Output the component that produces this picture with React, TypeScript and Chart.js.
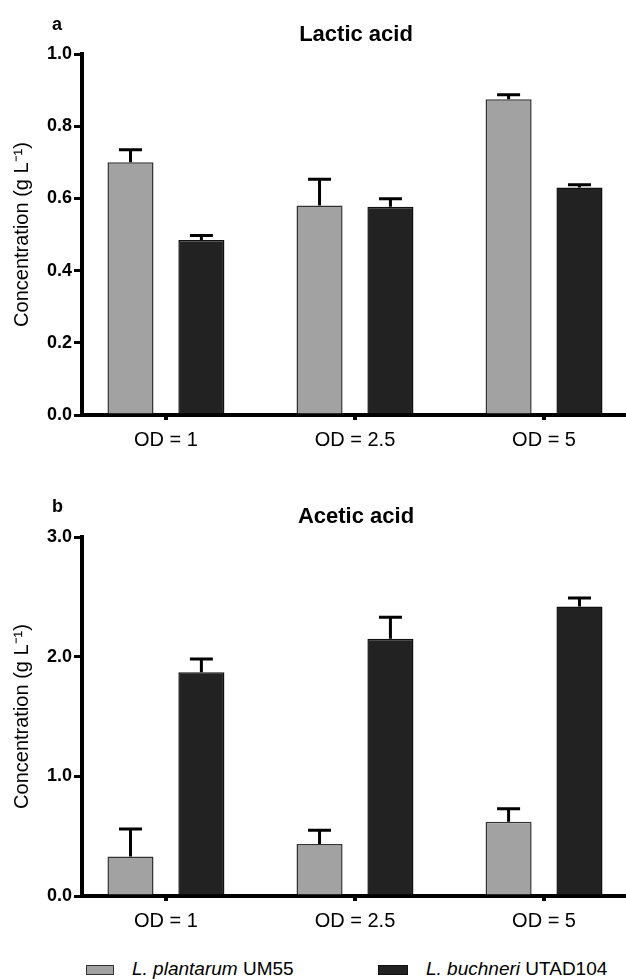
import React, { useEffect, useRef } from "react";
import { Chart, registerables } from "chart.js";

Chart.register(...registerables);

// ---- Data ----
const categories = ["OD = 1", "OD = 2.5", "OD = 5"];
const seriesNames = ["L. plantarum", "L. buchneri"];
const seriesStrains = ["UM55", "UTAD104"];

const lacticPlantarum = [0.70, 0.58, 0.875];
const lacticPlantarumErr = [0.035, 0.073, 0.012];
const lacticBuchneri = [0.485, 0.577, 0.63];
const lacticBuchneriErr = [0.012, 0.022, 0.008];

const aceticPlantarum = [0.33, 0.435, 0.62];
const aceticPlantarumErr = [0.23, 0.115, 0.11];
const aceticBuchneri = [1.87, 2.15, 2.42];
const aceticBuchneriErr = [0.11, 0.18, 0.07];

const lacticTicks = [0, 0.2, 0.4, 0.6, 0.8, 1.0];
const aceticTicks = [0, 1, 2, 3];

const GRAY = "#a2a2a2";
const DARK = "#222222";
const FONT = "'Liberation Sans', Arial, sans-serif";

const errorBarPlugin = {
  id: "errorBars",
  afterDatasetsDraw(chart: any) {
    const ctx = chart.ctx;
    const yScale = chart.scales.y;
    chart.data.datasets.forEach((ds: any, i: number) => {
      const meta = chart.getDatasetMeta(i);
      const errs: number[] = ds.errors || [];
      meta.data.forEach((el: any, j: number) => {
        const v = ds.data[j].y;
        const e = errs[j] || 0;
        const yTop = el.y;
        const yErr = yScale.getPixelForValue(v + e);
        ctx.save();
        ctx.strokeStyle = "#000";
        ctx.lineWidth = 3;
        ctx.beginPath();
        ctx.moveTo(el.x, yTop);
        ctx.lineTo(el.x, yErr);
        ctx.moveTo(el.x - 11.5, yErr);
        ctx.lineTo(el.x + 11.5, yErr);
        ctx.stroke();
        ctx.restore();
      });
    });
  },
};

type PanelProps = {
  top: number;
  height: number;
  plotTop: number;
  plotBottom: number;
  yMax: number;
  yTicks: number[];
  a: number[];
  aErr: number[];
  b: number[];
  bErr: number[];
};

function Panel(p: PanelProps) {
  const ref = useRef<HTMLCanvasElement | null>(null);
  useEffect(() => {
    if (!ref.current) return;
    const chart = new Chart(ref.current, {
      type: "bar",
      data: {
        datasets: [
          {
            label: seriesNames[0],
            data: p.a.map((v, i) => ({ x: i, y: v })),
            errors: p.aErr,
            backgroundColor: GRAY,
            borderColor: "#333",
            borderWidth: 1.5,
          } as any,
          {
            label: seriesNames[1],
            data: p.b.map((v, i) => ({ x: i, y: v })),
            errors: p.bErr,
            backgroundColor: DARK,
            borderColor: "#111",
            borderWidth: 1.5,
          } as any,
        ],
      },
      options: {
        responsive: false,
        animation: false,
        devicePixelRatio: 1,
        layout: { padding: { top: p.plotTop, right: 2, left: 0, bottom: 0 } },
        datasets: { bar: { categoryPercentage: 0.75, barPercentage: 0.65 } } as any,
        plugins: {
          legend: { display: false },
          tooltip: { enabled: false },
          title: { display: false },
        },
        scales: {
          x: {
            type: "linear",
            offset: false,
            min: -0.444,
            max: 2.423,
            afterBuildTicks: (s: any) => {
              s.ticks = categories.map((_, i) => ({ value: i }));
            },
            afterFit: (s: any) => {
              s.height = p.height - p.plotBottom;
            },
            ticks: {
              callback: (v: any) => categories[v] ?? "",
              font: { family: FONT, size: 20 },
              color: "#000",
              padding: 8,
              autoSkip: false,
              maxRotation: 0,
            },
            grid: {
              offset: false,
              drawOnChartArea: false,
              drawTicks: true,
              tickLength: 5,
              lineWidth: 4,
              color: "#000",
            },
            border: { display: true, width: 4, color: "#000" },
          } as any,
          y: {
            min: 0,
            max: p.yMax,
            afterBuildTicks: (s: any) => {
              s.ticks = p.yTicks.map((v) => ({ value: v }));
            },
            afterFit: (s: any) => {
              s.width = 82;
            },
            ticks: {
              callback: (v: any) => Number(v).toFixed(1),
              font: { family: FONT, size: 18, weight: "bold" },
              color: "#000",
              padding: 2,
            },
            grid: {
              drawOnChartArea: false,
              drawTicks: true,
              tickLength: 8,
              lineWidth: 3,
              color: "#000",
            },
            border: { display: true, width: 4, color: "#000" },
            title: {
              display: true,
              text: "Concentration (g L\u207B\u00B9)",
              font: { family: FONT, size: 20 },
              color: "#000",
              padding: { top: 10, bottom: 0 },
            },
          } as any,
        },
      },
      plugins: [errorBarPlugin],
    });
    return () => chart.destroy();
  }, []);
  return (
    <canvas
      ref={ref}
      width={626}
      height={p.height}
      style={{ position: "absolute", left: 0, top: p.top, width: 626, height: p.height }}
    />
  );
}

const textStyle = (x: number, y: number, size: number, bold: boolean, center = false): React.CSSProperties => ({
  position: "absolute",
  left: center ? x - 200 : x,
  width: center ? 400 : undefined,
  textAlign: center ? "center" : "left",
  top: y - size * 0.6,
  fontFamily: FONT,
  fontSize: size,
  fontWeight: bold ? "bold" : "normal",
  lineHeight: `${size * 1.2}px`,
  color: "#000",
  whiteSpace: "nowrap",
});

export default function App() {
  return (
    <div style={{ position: "absolute", left: 0, top: 0, width: 626, height: 979, background: "#fff", overflow: "hidden" }}>
      <Panel
        top={0}
        height={470}
        plotTop={54}
        plotBottom={415}
        yMax={1.0}
        yTicks={lacticTicks}
        a={lacticPlantarum}
        aErr={lacticPlantarumErr}
        b={lacticBuchneri}
        bErr={lacticBuchneriErr}
      />
      <Panel
        top={470}
        height={480}
        plotTop={67}
        plotBottom={426}
        yMax={3.0}
        yTicks={aceticTicks}
        a={aceticPlantarum}
        aErr={aceticPlantarumErr}
        b={aceticBuchneri}
        bErr={aceticBuchneriErr}
      />
      <div style={textStyle(52, 25, 18, true)}>a</div>
      <div style={textStyle(356, 34, 22, true, true)}>Lactic acid</div>
      <div style={textStyle(52, 507, 18, true)}>b</div>
      <div style={textStyle(356, 516, 22, true, true)}>Acetic acid</div>
      <div style={{ position: "absolute", left: 86, top: 965, width: 26, height: 8, background: GRAY, border: "1px solid #333" }} />
      <div style={textStyle(132, 969, 19, false)}>
        <i>{seriesNames[0]}</i> {seriesStrains[0]}
      </div>
      <div style={{ position: "absolute", left: 378, top: 965, width: 28, height: 8, background: DARK, border: "1px solid #111" }} />
      <div style={textStyle(426, 969, 19, false)}>
        <i>{seriesNames[1]}</i> {seriesStrains[1]}
      </div>
    </div>
  );
}
